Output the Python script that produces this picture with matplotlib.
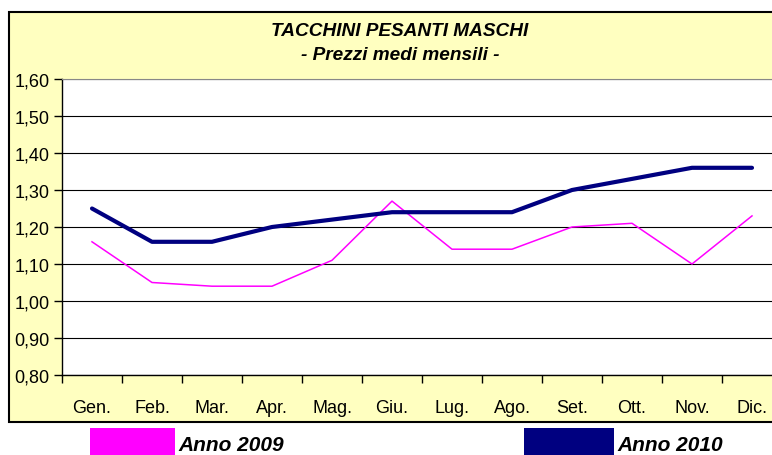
import matplotlib
matplotlib.use('Agg')
import matplotlib.pyplot as plt
from matplotlib.patches import Rectangle
from matplotlib.ticker import FuncFormatter, MultipleLocator

plt.rcParams['font.family'] = ['Liberation Sans', 'DejaVu Sans']

# data
mesi = ['Gen.', 'Feb.', 'Mar.', 'Apr.', 'Mag.', 'Giu.',
        'Lug.', 'Ago.', 'Set.', 'Ott.', 'Nov.', 'Dic.']
anno_2009 = [1.16, 1.05, 1.04, 1.04, 1.11, 1.27, 1.14, 1.14, 1.20, 1.21, 1.10, 1.23]
anno_2010 = [1.25, 1.16, 1.16, 1.20, 1.22, 1.24, 1.24, 1.24, 1.30, 1.33, 1.36, 1.36]

W, H = 772, 456
fig = plt.figure(figsize=(W / 100, H / 100), dpi=100)
fig.patch.set_facecolor('white')

# yellow chart panel, behind the axes
panel = Rectangle((9 / W, (H - 423) / H), (790 - 9) / W, (423 - 13) / H,
                  transform=fig.transFigure, facecolor='#FFFFC0',
                  edgecolor='black', linewidth=1.5, zorder=-10)
fig.patches.append(panel)

ax = fig.add_axes([62 / W, (H - 376) / H, (782 - 62) / W, (376 - 80) / H])
ax.set_zorder(1)
ax.set_facecolor('white')

x = range(len(mesi))
ax.plot(x, anno_2009, color='#FF00FF', linewidth=1.1, zorder=3)
ax.plot(x, anno_2010, color='#000080', linewidth=3, solid_capstyle='round', zorder=4)

ax.set_xlim(-0.5, len(mesi) - 0.5)
ax.set_ylim(0.80, 1.60)
ax.yaxis.set_major_locator(MultipleLocator(0.10))
ax.yaxis.set_major_formatter(FuncFormatter(lambda v, p: f"{v:.2f}".replace('.', ',')))
ax.grid(axis='y', color='black', linewidth=0.8)
ax.set_axisbelow(True)

ax.set_xticks([i - 0.5 for i in range(len(mesi) + 1)])
ax.set_xticklabels([])
ax.set_xticks(list(x), minor=True)
ax.set_xticklabels(mesi, minor=True)
ax.tick_params(axis='x', which='major', length=6, width=1, direction='out')
ax.tick_params(axis='x', which='minor', length=0, pad=17, labelsize=13)
ax.tick_params(axis='y', length=6, width=1, direction='out', pad=3, labelsize=13)

for s in ['left', 'bottom']:
    ax.spines[s].set_color('black')
    ax.spines[s].set_linewidth(1)
ax.spines['top'].set_color('#888888')
ax.spines['right'].set_visible(False)

# title
fig.text(400 / W, 1 - 31 / H, 'TACCHINI PESANTI MASCHI', ha='center', va='center',
         fontsize=13.7, fontweight='bold', fontstyle='italic')
fig.text(400 / W, 1 - 56 / H, '- Prezzi medi mensili -', ha='center', va='center',
         fontsize=13.7, fontweight='bold', fontstyle='italic')

# legend below the panel
fig.patches.append(Rectangle((90 / W, 0), 85 / W, (456 - 429) / H,
                             transform=fig.transFigure, facecolor='#FF00FF', edgecolor='none'))
fig.text(178 / W, 1 - 446 / H, 'Anno 2009', ha='left', va='center',
         fontsize=15, fontweight='bold', fontstyle='italic')
fig.patches.append(Rectangle((524 / W, 0), 90 / W, (456 - 429) / H,
                             transform=fig.transFigure, facecolor='#000080', edgecolor='none'))
fig.text(617 / W, 1 - 446 / H, 'Anno 2010', ha='left', va='center',
         fontsize=15, fontweight='bold', fontstyle='italic')

fig.savefig('out.png', dpi=100)
